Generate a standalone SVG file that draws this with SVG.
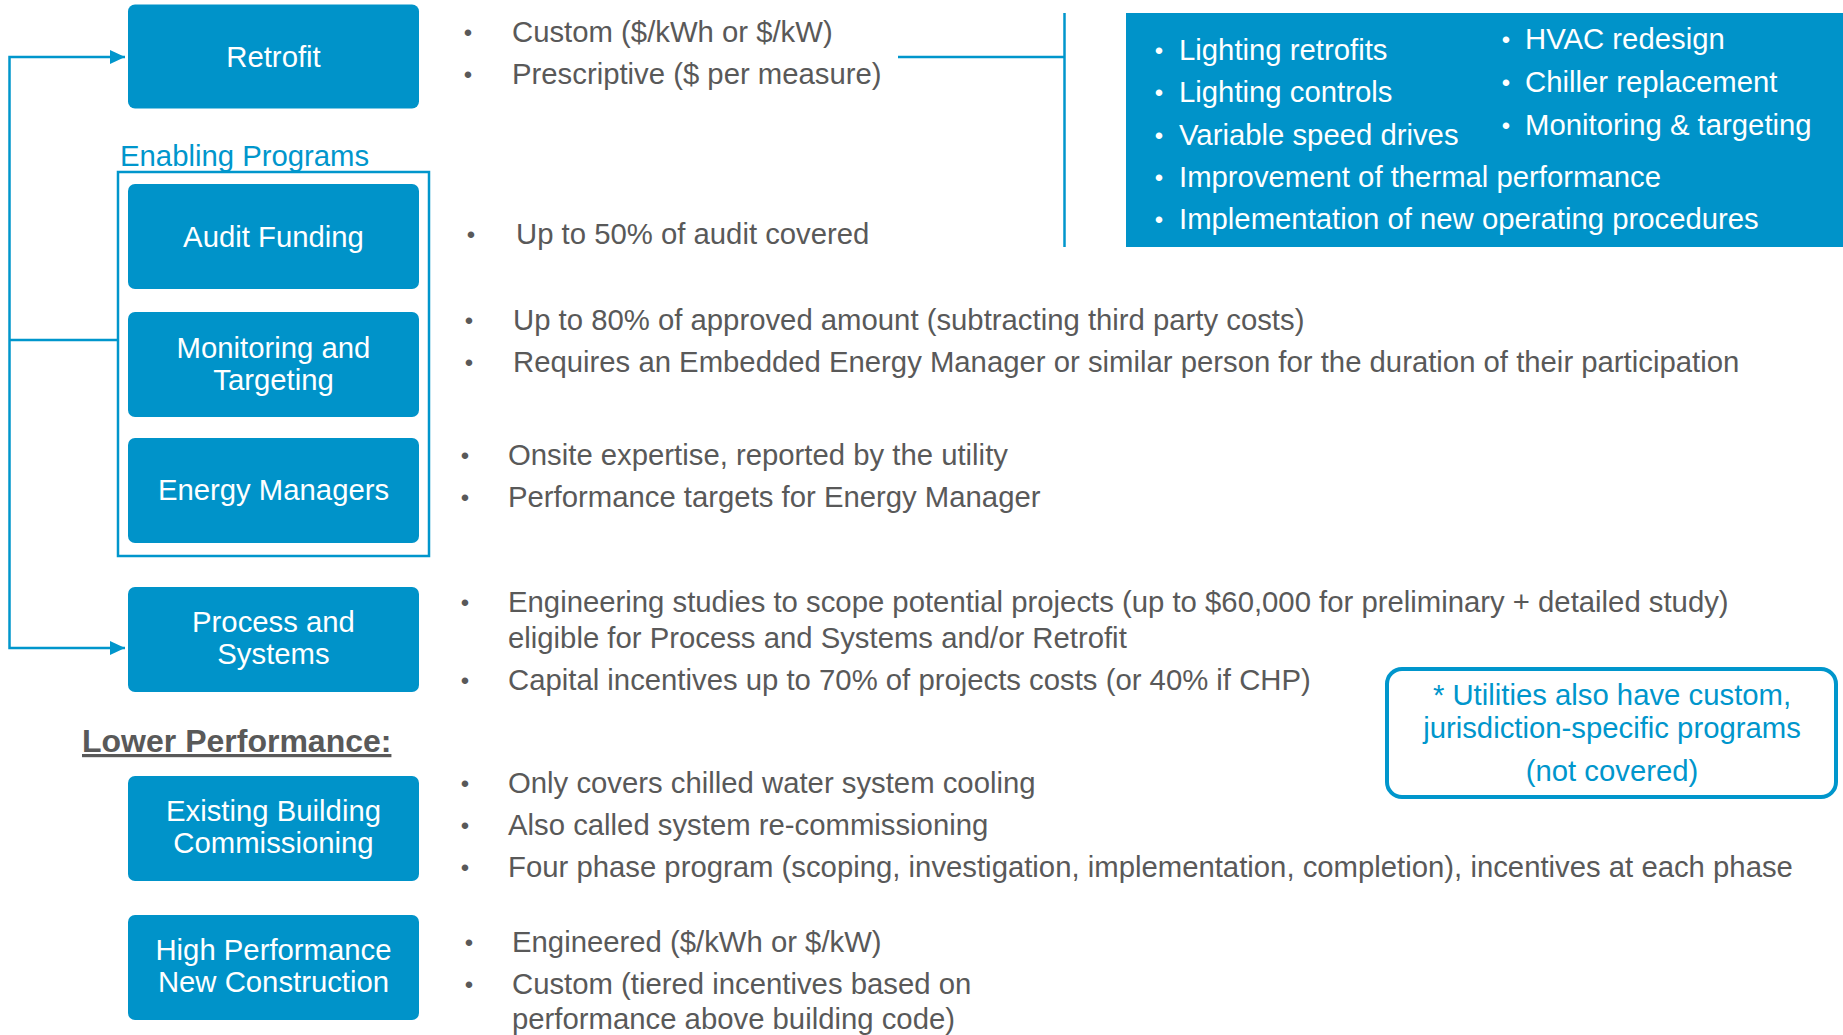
<svg xmlns="http://www.w3.org/2000/svg" width="1843" height="1035" viewBox="0 0 1843 1035">
<style>
.box{fill:#0093C9;}
.lbl{font-family:"Liberation Sans",Arial,sans-serif;font-size:29.3px;fill:#FFFFFF;text-anchor:middle;}
.txt{font-family:"Liberation Sans",Arial,sans-serif;font-size:29.3px;fill:#595959;}
.bul{font-family:"Liberation Sans",Arial,sans-serif;font-size:24px;fill:#595959;text-anchor:middle;}
.wtxt{font-family:"Liberation Sans",Arial,sans-serif;font-size:29.3px;fill:#FFFFFF;}
.wbul{font-family:"Liberation Sans",Arial,sans-serif;font-size:24px;fill:#FFFFFF;text-anchor:middle;}
.btxt{font-family:"Liberation Sans",Arial,sans-serif;font-size:29.3px;fill:#0096CC;}
.conn{fill:none;stroke:#0096CC;stroke-width:2.5;}
</style>
<defs>
<marker id="arr" markerWidth="15" markerHeight="14" refX="15" refY="7" orient="auto" markerUnits="userSpaceOnUse">
<path d="M0,0 L15,7 L0,14 Z" fill="#0096CC"/>
</marker>
</defs>

<g id="connectors">
<path class="conn" d="M9.5,340 L9.5,57 L125,57" marker-end="url(#arr)"/>
<path class="conn" d="M9.5,340 L9.5,648 L125,648" marker-end="url(#arr)"/>
<line class="conn" x1="9.5" y1="340" x2="118" y2="340"/>
<line class="conn" x1="898" y1="57" x2="1064.5" y2="57"/>
<line class="conn" x1="1064.5" y1="13" x2="1064.5" y2="247"/>
</g>

<g id="enabling-programs">
<text class="btxt" x="120" y="166">Enabling Programs</text>
<rect x="118" y="172" width="311" height="384" fill="none" stroke="#0096CC" stroke-width="2.5"/>
</g>

<g id="retrofit">
<rect class="box" x="128" y="4.5" width="291" height="104" rx="7"/>
<text class="lbl" x="273.5" y="66.5">Retrofit</text>
</g>

<g id="audit-funding">
<rect class="box" x="128" y="184" width="291" height="105" rx="7"/>
<text class="lbl" x="273.5" y="246.5">Audit Funding</text>
</g>

<g id="monitoring-targeting">
<rect class="box" x="128" y="312" width="291" height="105" rx="7"/>
<text class="lbl" x="273.5" y="358">Monitoring and</text>
<text class="lbl" x="273.5" y="390">Targeting</text>
</g>

<g id="energy-managers">
<rect class="box" x="128" y="438" width="291" height="105" rx="7"/>
<text class="lbl" x="273.5" y="500">Energy Managers</text>
</g>

<g id="process-systems">
<rect class="box" x="128" y="587" width="291" height="105" rx="7"/>
<text class="lbl" x="273.5" y="632">Process and</text>
<text class="lbl" x="273.5" y="664">Systems</text>
</g>

<g id="lower-performance">
<text x="82" y="752" font-family="'Liberation Sans',Arial,sans-serif" font-size="32" font-weight="bold" fill="#595959" text-decoration="underline">Lower Performance:</text>
</g>

<g id="existing-building">
<rect class="box" x="128" y="776" width="291" height="105" rx="7"/>
<text class="lbl" x="273.5" y="821">Existing Building</text>
<text class="lbl" x="273.5" y="853">Commissioning</text>
</g>

<g id="high-performance">
<rect class="box" x="128" y="915" width="291" height="105" rx="7"/>
<text class="lbl" x="273.5" y="960">High Performance</text>
<text class="lbl" x="273.5" y="992">New Construction</text>
</g>

<g id="retrofit-details">
<text class="bul" x="468" y="41">•</text>
<text class="txt" x="512" y="42">Custom ($/kWh or $/kW)</text>
<text class="bul" x="468" y="83">•</text>
<text class="txt" x="512" y="84">Prescriptive ($ per measure)</text>
</g>

<g id="measures">
<rect x="1126" y="13" width="717" height="234" fill="#0093C9"/>
<text class="wbul" x="1159" y="59">•</text>
<text class="wtxt" x="1179" y="60">Lighting retrofits</text>
<text class="wbul" x="1159" y="101">•</text>
<text class="wtxt" x="1179" y="102">Lighting controls</text>
<text class="wbul" x="1159" y="144">•</text>
<text class="wtxt" x="1179" y="145">Variable speed drives</text>
<text class="wbul" x="1159" y="186">•</text>
<text class="wtxt" x="1179" y="187">Improvement of thermal performance</text>
<text class="wbul" x="1159" y="228">•</text>
<text class="wtxt" x="1179" y="229">Implementation of new operating procedures</text>
<text class="wbul" x="1506" y="48">•</text>
<text class="wtxt" x="1525" y="49">HVAC redesign</text>
<text class="wbul" x="1506" y="91">•</text>
<text class="wtxt" x="1525" y="92">Chiller replacement</text>
<text class="wbul" x="1506" y="134">•</text>
<text class="wtxt" x="1525" y="135">Monitoring &amp; targeting</text>
</g>

<g id="audit-details">
<text class="bul" x="471" y="243">•</text>
<text class="txt" x="516" y="244">Up to 50% of audit covered</text>
</g>

<g id="monitoring-details">
<text class="bul" x="469" y="329">•</text>
<text class="txt" x="513" y="330">Up to 80% of approved amount (subtracting third party costs)</text>
<text class="bul" x="469" y="371">•</text>
<text class="txt" x="513" y="372">Requires an Embedded Energy Manager or similar person for the duration of their participation</text>
</g>

<g id="energy-details">
<text class="bul" x="465" y="464">•</text>
<text class="txt" x="508" y="465">Onsite expertise, reported by the utility</text>
<text class="bul" x="465" y="506">•</text>
<text class="txt" x="508" y="507">Performance targets for Energy Manager</text>
</g>

<g id="process-details">
<text class="bul" x="465" y="611">•</text>
<text class="txt" x="508" y="612">Engineering studies to scope potential projects (up to $60,000 for preliminary + detailed study)</text>
<text class="txt" x="508" y="648">eligible for Process and Systems and/or Retrofit</text>
<text class="bul" x="465" y="689">•</text>
<text class="txt" x="508" y="690">Capital incentives up to 70% of projects costs (or 40% if CHP)</text>
</g>

<g id="existing-details">
<text class="bul" x="465" y="792">•</text>
<text class="txt" x="508" y="793">Only covers chilled water system cooling</text>
<text class="bul" x="465" y="834">•</text>
<text class="txt" x="508" y="835">Also called system re-commissioning</text>
<text class="bul" x="465" y="876">•</text>
<text class="txt" x="508" y="877">Four phase program (scoping, investigation, implementation, completion), incentives at each phase</text>
</g>

<g id="high-details">
<text class="bul" x="469" y="951">•</text>
<text class="txt" x="512" y="952">Engineered ($/kWh or $/kW)</text>
<text class="bul" x="469" y="993">•</text>
<text class="txt" x="512" y="994">Custom (tiered incentives based on</text>
<text class="txt" x="512" y="1029">performance above building code)</text>
</g>

<g id="note">
<rect x="1387" y="669" width="449" height="128" rx="15" fill="none" stroke="#0096CC" stroke-width="4"/>
<text class="btxt" x="1612" y="705" text-anchor="middle">* Utilities also have custom,</text>
<text class="btxt" x="1612" y="738" text-anchor="middle">jurisdiction-specific programs</text>
<text class="btxt" x="1612" y="781" text-anchor="middle">(not covered)</text>
</g>
</svg>
